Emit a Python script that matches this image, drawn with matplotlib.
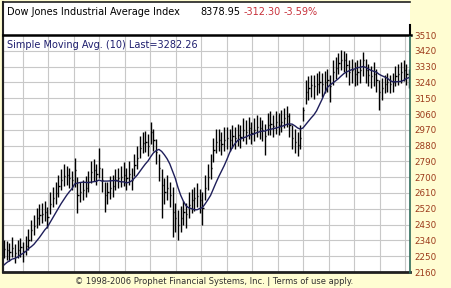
import numpy as np
import matplotlib
matplotlib.use('Agg')
import matplotlib.pyplot as plt
from matplotlib.patches import Rectangle
from matplotlib.lines import Line2D

# 데이터 (daily bars)
pre_close = [2150, 2170, 2200, 2230, 2210, 2180, 2190, 2200, 2180]  # before the window, only for the SMA

close = [2291, 2285, 2274, 2297, 2268, 2285, 2302, 2280, 2308, 2342,
         2399, 2422, 2468, 2485, 2490, 2502, 2473, 2547, 2582, 2610,
         2650, 2684, 2707, 2713, 2695, 2684, 2741, 2599, 2616, 2627,
         2639, 2673, 2730, 2741, 2718, 2752, 2684, 2599, 2616, 2639,
         2650, 2684, 2695, 2701, 2713, 2695, 2718, 2684, 2770, 2809,
         2866, 2895, 2901, 2878, 2957, 2912, 2844, 2752, 2656, 2616,
         2639, 2599, 2502, 2468, 2428, 2468, 2502, 2490, 2542, 2570,
         2582, 2593, 2570, 2525, 2639, 2701, 2752, 2855, 2901, 2912,
         2889, 2912, 2923, 2912, 2935, 2923, 2940, 2929, 2969, 2957,
         2980, 2952, 2969, 2986, 2980, 2969, 2935, 2997, 3003, 2992,
         3014, 2997, 3014, 3037, 3049, 2997, 2923, 2901, 2883, 2923,
         3083, 3185, 3208, 3225, 3220, 3231, 3242, 3231, 3242, 3254,
         3220, 3299, 3322, 3351, 3368, 3368, 3339, 3299, 3311, 3288,
         3299, 3311, 3368, 3311, 3282, 3276, 3288, 3254, 3185, 3208,
         3231, 3242, 3231, 3242, 3276, 3288, 3299, 3311, 3288, 3265]

high = [2345, 2335, 2325, 2360, 2320, 2345, 2355, 2330, 2365, 2405,
        2455, 2485, 2525, 2545, 2555, 2565, 2530, 2615, 2645, 2675,
        2715, 2745, 2775, 2765, 2755, 2735, 2809, 2701, 2675, 2685,
        2705, 2735, 2795, 2805, 2775, 2866, 2755, 2675, 2675, 2705,
        2715, 2745, 2755, 2765, 2785, 2755, 2795, 2755, 2835, 2875,
        2935, 2955, 2965, 2945, 3014, 2975, 2915, 2835, 2745, 2695,
        2715, 2675, 2644, 2555, 2515, 2535, 2565, 2555, 2615, 2635,
        2645, 2665, 2635, 2615, 2715, 2775, 2835, 2925, 2975, 2975,
        2955, 2985, 2985, 2975, 2995, 2985, 3005, 2995, 3035, 3025,
        3045, 3015, 3035, 3055, 3045, 3025, 3005, 3065, 3075, 3055,
        3075, 3065, 3085, 3095, 3105, 3065, 2995, 2975, 2955, 2995,
        3100, 3255, 3275, 3285, 3285, 3295, 3305, 3295, 3305, 3315,
        3285, 3365, 3385, 3410, 3424, 3420, 3410, 3365, 3375, 3355,
        3365, 3375, 3413, 3375, 3345, 3335, 3355, 3315, 3255, 3265,
        3285, 3295, 3285, 3295, 3335, 3345, 3355, 3365, 3345, 3315]

low = [2238, 2228, 2223, 2248, 2213, 2238, 2243, 2218, 2258, 2288,
       2338, 2368, 2408, 2428, 2438, 2448, 2408, 2488, 2528, 2548,
       2588, 2628, 2648, 2658, 2638, 2628, 2644, 2496, 2558, 2568,
       2588, 2618, 2668, 2678, 2658, 2698, 2618, 2502, 2548, 2578,
       2588, 2628, 2638, 2643, 2648, 2628, 2658, 2627, 2708, 2748,
       2808, 2838, 2843, 2818, 2888, 2848, 2778, 2678, 2468, 2548,
       2568, 2528, 2359, 2388, 2342, 2388, 2428, 2408, 2468, 2498,
       2508, 2528, 2498, 2428, 2568, 2628, 2688, 2788, 2838, 2848,
       2828, 2848, 2858, 2848, 2868, 2858, 2878, 2868, 2908, 2888,
       2918, 2888, 2908, 2928, 2918, 2908, 2826, 2938, 2938, 2928,
       2948, 2938, 2958, 2978, 2988, 2928, 2858, 2838, 2818, 2858,
       3020, 3118, 3138, 3158, 3148, 3168, 3178, 3158, 3178, 3188,
       3128, 3228, 3258, 3288, 3308, 3298, 3268, 3228, 3238, 3218,
       3228, 3238, 3278, 3238, 3218, 3208, 3218, 3188, 3083, 3138,
       3178, 3188, 3178, 3188, 3218, 3228, 3238, 3248, 3228, 3208]

y_ticks = [2160, 2250, 2340, 2430, 2520, 2610, 2700, 2790, 2880, 2970,
           3060, 3150, 3240, 3330, 3420, 3510]

title = 'Dow Jones Industrial Average Index'
last_value = '8378.95'
change = '-312.30'
change_pct = '-3.59%'
sma_label = 'Simple Moving Avg. (10) Last=3282.26'
footer = '\u00a9 1998-2006 Prophet Financial Systems, Inc. | Terms of use apply.'

# 이동평균
allc = np.array(pre_close + close, dtype=float)
sma = np.convolve(allc, np.ones(10) / 10, mode='valid')
n = len(close)
x = np.arange(n)

W, H = 451, 288
bg = '#FFFDD2'
fig = plt.figure(figsize=(W / 100, H / 100), dpi=100, facecolor=bg)

# 패널 (pixel 기준)
left, right, top, hdr, bottom = 3, 410, 2, 35, 272
fig.patches.append(Rectangle((left / W, 1 - bottom / H), (right - left) / W, (bottom - top) / H,
                             transform=fig.transFigure, facecolor='white', edgecolor='none', zorder=-5))
ax = fig.add_axes([left / W, 1 - bottom / H, (right - left) / W, (bottom - hdr) / H])
ax.set_facecolor('white')

step = (right - 1 - (left + 1)) / (n - 1)
x0 = -1 / step
ax.set_xlim(x0, x0 + (right - left) / step)
ax.set_ylim(2160, 3510)

# 격자
for yt in y_ticks:
    ax.axhline(yt, color='#C8C8C8', lw=0.8, zorder=1)
for gx in np.linspace((22.7 - left - 1) / step, (405 - left - 1) / step, 16):
    ax.axvline(gx, color='#C8C8C8', lw=0.8, zorder=1)

# 바 차트
ax.vlines(x, low, high, color='black', lw=1.0, zorder=3)
ax.hlines(close, x, x + 0.45, color='black', lw=1.0, zorder=3)
ax.plot(x, sma, color='#1E1E5A', lw=1.0, zorder=4)

ax.set_xticks([])
ax.yaxis.tick_right()
ax.set_yticks(y_ticks)
ax.set_yticklabels([str(t) for t in y_ticks], fontsize=6.3, color='#9C3A1A')
ax.tick_params(axis='y', length=0, pad=3)
for s in ['top', 'right']:
    ax.spines[s].set_visible(False)
ax.spines['left'].set_color('#202020')
ax.spines['left'].set_linewidth(1.5)
ax.spines['bottom'].set_color('#202020')
ax.spines['bottom'].set_linewidth(2)

# 테두리
def fline(xs, ys, **kw):
    fig.lines.append(Line2D([v / W for v in xs], [1 - v / H for v in ys],
                            transform=fig.transFigure, **kw))

fline([left, right], [top, top], color='#202020', lw=1.2)
fline([left, left], [top, bottom], color='#202020', lw=1.5)
fline([left, right + 1], [hdr - 0.5, hdr - 0.5], color='black', lw=1.8)
fline([right, right], [hdr, bottom + 1], color='#2E6B5A', lw=1.2)
fline([right, right], [25, hdr], color='black', lw=1.5)

# 텍스트
fig.text(7 / W, 1 - 12 / H, title, fontsize=7, va='center', color='black')
fig.text(200 / W, 1 - 12 / H, last_value, fontsize=7, va='center', color='black')
fig.text(244 / W, 1 - 12 / H, change, fontsize=7, va='center', color='#C8323C')
fig.text(284 / W, 1 - 12 / H, change_pct, fontsize=7, va='center', color='#C8323C')
fig.text(7 / W, 1 - 45 / H, sma_label, fontsize=7, va='center', color='#1E1E6E')
fig.text(214 / W, 1 - 281 / H, footer, fontsize=6, va='center', ha='center', color='#303030')

fig.savefig('out.png', dpi=100, facecolor=bg)
